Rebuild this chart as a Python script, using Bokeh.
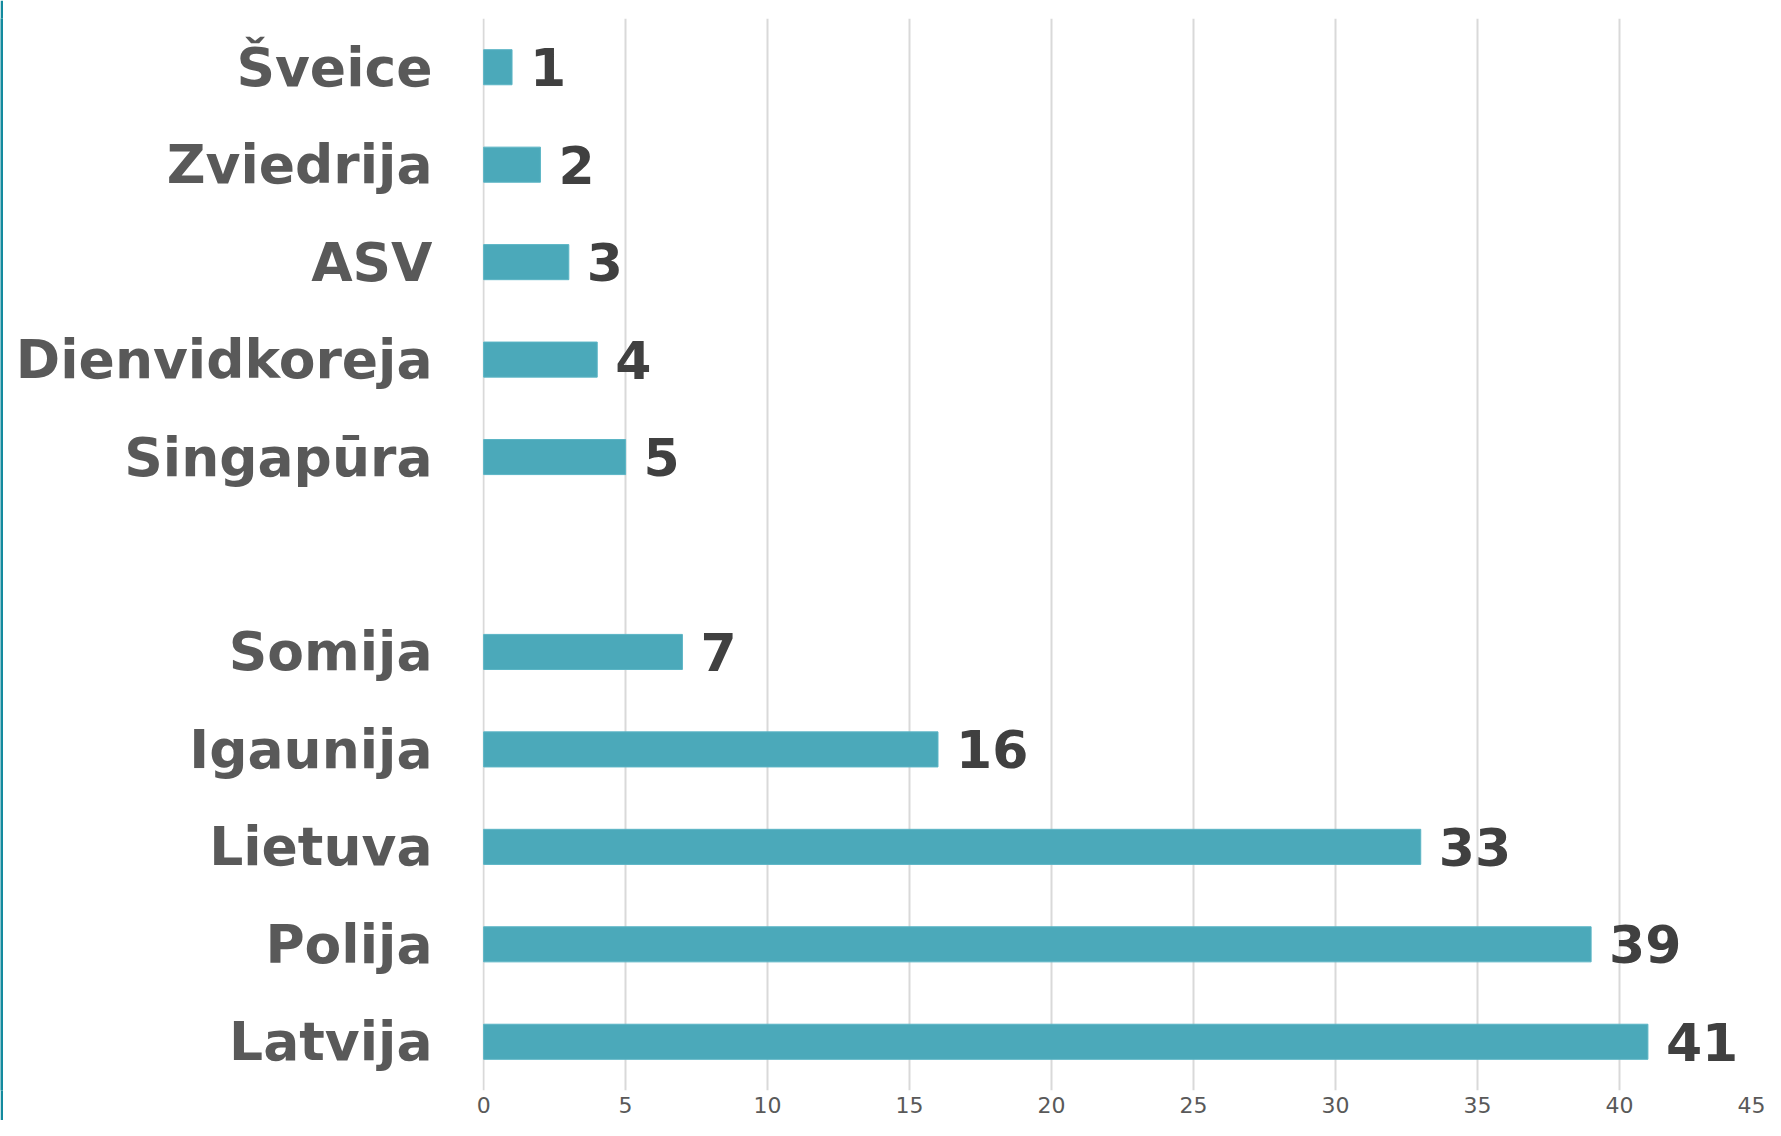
from bokeh.plotting import figure
from bokeh.layouts import row
from bokeh.models import FactorRange, Range1d, ColumnDataSource, FixedTicker
from bokeh.core.properties import value
from bokeh.embed import file_html
from bokeh.resources import INLINE

# bottom-to-top category order; " " is the empty gap slot
factors = ["Latvija", "Polija", "Lietuva", "Igaunija", "Somija", " ",
           "Singapūra", "Dienvidkoreja", "ASV", "Zviedrija", "Šveice"]
countries = ["Latvija", "Polija", "Lietuva", "Igaunija", "Somija",
             "Singapūra", "Dienvidkoreja", "ASV", "Zviedrija", "Šveice"]
counts = [41, 39, 33, 16, 7, 5, 4, 3, 2, 1]
x_ticks = [0, 5, 10, 15, 20, 25, 30, 35, 40, 45]

src = ColumnDataSource(dict(y=countries, x=counts, lbl=[str(v) for v in counts]))

# thin teal strip at the far left edge of the slide
edge = figure(width=3, height=1120, output_backend="svg", toolbar_location=None,
              x_axis_type=None, y_axis_type=None, min_border=0,
              background_fill_color="#138A9E", border_fill_color="#138A9E")
edge.outline_line_color = None
edge.grid.visible = False

p = figure(width=1762, height=1120, output_backend="svg", toolbar_location=None,
           y_range=FactorRange(*factors, range_padding=0),
           x_range=Range1d(-0.04, 45),
           min_border_left=479, min_border_right=4, min_border_top=18, min_border_bottom=30)

p.hbar(y="y", right="x", left=0, height=0.36, source=src,
       fill_color="#4BA9BA", line_color="#5BB5C5", line_width=1)

p.text(x="x", y="y", text="lbl", source=src, x_offset=18,
       text_baseline="middle", text_align="left",
       text_font=value("DejaVu Sans"), text_font_style="bold",
       text_font_size="52px", text_color="#404040")

p.outline_line_color = None
p.ygrid.grid_line_color = None
p.xgrid.grid_line_color = "#D9D9D9"
p.xgrid.grid_line_width = 2
p.xaxis.ticker = FixedTicker(ticks=x_ticks)
p.xaxis.axis_line_color = None
p.xaxis.major_tick_line_color = None
p.xaxis.minor_tick_line_color = None
p.xaxis.major_tick_out = 0
p.xaxis.major_label_standoff = 6
p.xaxis.major_label_text_font = "DejaVu Sans"
p.xaxis.major_label_text_font_size = "22px"
p.xaxis.major_label_text_color = "#595959"

p.yaxis.axis_line_color = None
p.yaxis.major_tick_line_color = None
p.yaxis.minor_tick_line_color = None
p.yaxis.major_tick_out = 0
p.yaxis.major_label_standoff = 50
p.yaxis.major_label_text_font = "DejaVu Sans"
p.yaxis.major_label_text_font_style = "bold"
p.yaxis.major_label_text_font_size = "53.5px"
p.yaxis.major_label_text_color = "#595959"

layout = row(edge, p, spacing=0)
open("out.html", "w").write(file_html(layout, INLINE))
